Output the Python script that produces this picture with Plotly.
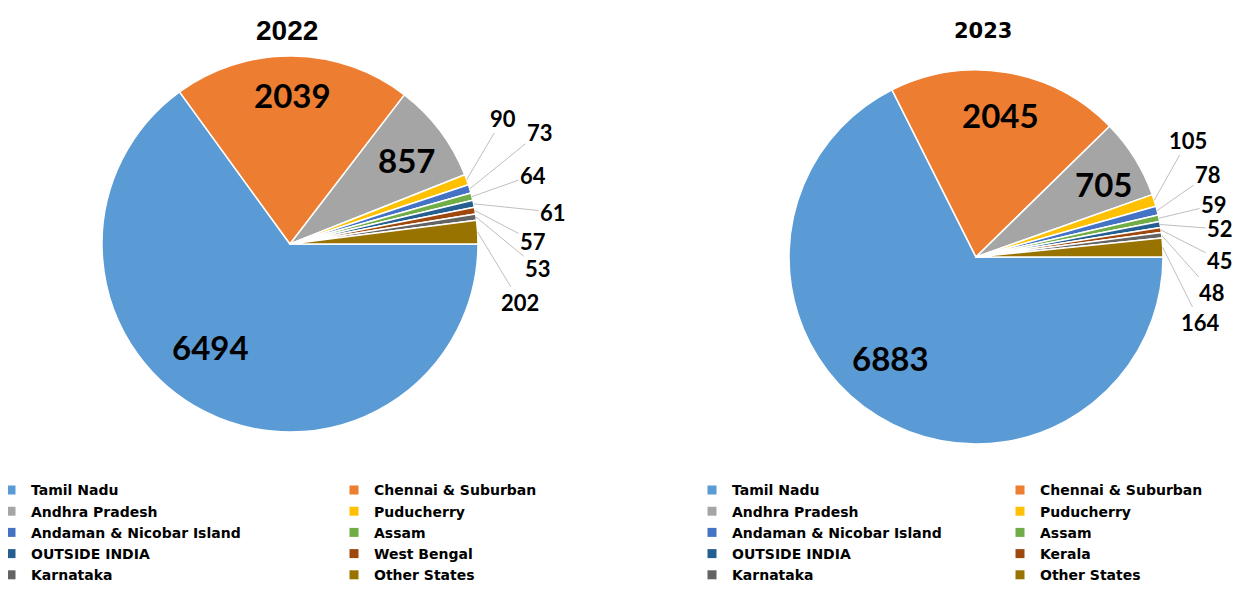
import math
import plotly.graph_objects as go

# ---------------- data ----------------
labels_2022 = ["Tamil Nadu", "Chennai & Suburban", "Andhra Pradesh", "Puducherry",
               "Andaman & Nicobar Island", "Assam", "OUTSIDE INDIA", "West Bengal",
               "Karnataka", "Other States"]
values_2022 = [6494, 2039, 857, 90, 73, 64, 61, 57, 53, 202]

labels_2023 = ["Tamil Nadu", "Chennai & Suburban", "Andhra Pradesh", "Puducherry",
               "Andaman & Nicobar Island", "Assam", "OUTSIDE INDIA", "Kerala",
               "Karnataka", "Other States"]
values_2023 = [6883, 2045, 705, 105, 78, 59, 52, 45, 48, 164]

titles = ["2022", "2023"]

# ---------------- styles / layout ----------------
colors = ["#5B9BD5", "#ED7D31", "#A5A5A5", "#FFC000", "#4472C4",
          "#70AD47", "#255E91", "#9E480E", "#636363", "#997300"]
PAGE_W, PAGE_H = 1242, 593
PAD = 8                       # default page (body) margin around the figure
W, H = PAGE_W - 2 * PAD, PAGE_H - 2 * PAD
ROT = 90


def fx(px):  # page pixel -> paper x
    return (px - PAD) / W


def fy(py):  # page pixel -> paper y
    return 1 - (py - PAD) / H


pie_geo = [dict(cx=290, cy=244, r=188), dict(cx=976, cy=257, r=187)]
title_style = [
    dict(x=287, y=30, size=28, family="Liberation Sans, Arial, sans-serif"),
    dict(x=983, y=31, size=21, family="DejaVu Sans, sans-serif"),
]
# text-centre positions (page px) for the big slice labels (slices 0..2)
big_label_pos = [
    [(210, 347), (292, 95), (406, 160)],
    [(890, 358), (1000, 115), (1103, 184)],
]
# text-centre positions (page px) for the small slice labels (slices 3..9)
small_label_pos = [
    [(503, 118), (540, 132), (533, 175), (553, 212), (533, 241), (538, 268), (520, 302)],
    [(1188, 140), (1208, 175), (1214, 205), (1220, 229), (1220, 260), (1212, 292), (1200, 322)],
]
legend_lefts = [[-9, 334], [692, 1000]]
LEG_SIZE = 14
legend_first_row = 490
NUM_FONT = "Lato, Open Sans, sans-serif"
LEG_FONT = "DejaVu Sans, sans-serif"

fig = go.Figure()
annotations = []

for k, (labels, values) in enumerate([(labels_2022, values_2022), (labels_2023, values_2023)]):
    g = pie_geo[k]
    cx, cy, r = g["cx"], g["cy"], g["r"]
    fig.add_trace(go.Pie(
        labels=labels, values=values, sort=False, direction="clockwise", rotation=ROT,
        marker=dict(colors=colors, line=dict(color="white", width=1.5)),
        textinfo="none",
        domain=dict(x=[fx(cx - r), fx(cx + r)], y=[fy(cy + r), fy(cy - r)]),
        showlegend=False, hoverinfo="label+value",
    ))
    total = sum(values)
    cum = 0
    for i, v in enumerate(values):
        mid = math.radians(ROT + 360.0 * (cum + v / 2.0) / total)
        cum += v
        if i < 3:
            lx, ly = big_label_pos[k][i]
            annotations.append(dict(
                x=fx(lx), y=fy(ly), xref="paper", yref="paper",
                text=str(v), showarrow=False, xanchor="center", yanchor="middle",
                font=dict(family=NUM_FONT, size=33, color="black", weight="bold"),
            ))
            continue
        tx = cx + r * math.sin(mid)
        ty = cy - r * math.cos(mid)
        lx, ly = small_label_pos[k][i - 3]
        annotations.append(dict(
            x=fx(tx), y=fy(ty), xref="paper", yref="paper",
            ax=lx - tx, ay=ly - ty, axref="pixel", ayref="pixel",
            text=str(v), showarrow=True, arrowhead=0, arrowwidth=1,
            arrowcolor="#BFBFBF", standoff=0,
            font=dict(family=NUM_FONT, size=22, color="black", weight="bold"),
        ))
    ts = title_style[k]
    annotations.append(dict(
        x=fx(ts["x"]), y=fy(ts["y"]), xref="paper", yref="paper",
        text=titles[k], showarrow=False, xanchor="center", yanchor="middle",
        font=dict(family=ts["family"], size=ts["size"], color="black", weight="bold"),
    ))

    # legend entries (two columns per chart)
    for i, lab in enumerate(labels):
        leg_idx = 2 * k + (i % 2)
        leg_name = "legend" if leg_idx == 0 else f"legend{leg_idx + 1}"
        fig.add_trace(go.Scatter(
            x=[None], y=[None], mode="markers", name=lab,
            marker=dict(symbol="square", size=9, color=colors[i]),
            legend=leg_name, showlegend=True, hoverinfo="skip",
        ))

item_h = 1.3 * LEG_SIZE + 3
legend_top = legend_first_row - (5 + item_h / 2)
legend_common = dict(
    orientation="v", xanchor="left", yanchor="top",
    font=dict(family=LEG_FONT, size=LEG_SIZE, color="black", weight="bold"),
    bgcolor="rgba(0,0,0,0)", borderwidth=0,
)
leg_layout = {}
for idx in range(4):
    k, c = divmod(idx, 2)
    name = "legend" if idx == 0 else f"legend{idx + 1}"
    leg_layout[name] = dict(legend_common, x=fx(legend_lefts[k][c]), y=fy(legend_top))

fig.update_layout(
    width=W, height=H, margin=dict(l=0, r=0, t=0, b=0, autoexpand=False),
    paper_bgcolor="white", plot_bgcolor="white",
    xaxis=dict(visible=False), yaxis=dict(visible=False),
    annotations=annotations,
    **leg_layout,
)

fig.write_html("out.html")
